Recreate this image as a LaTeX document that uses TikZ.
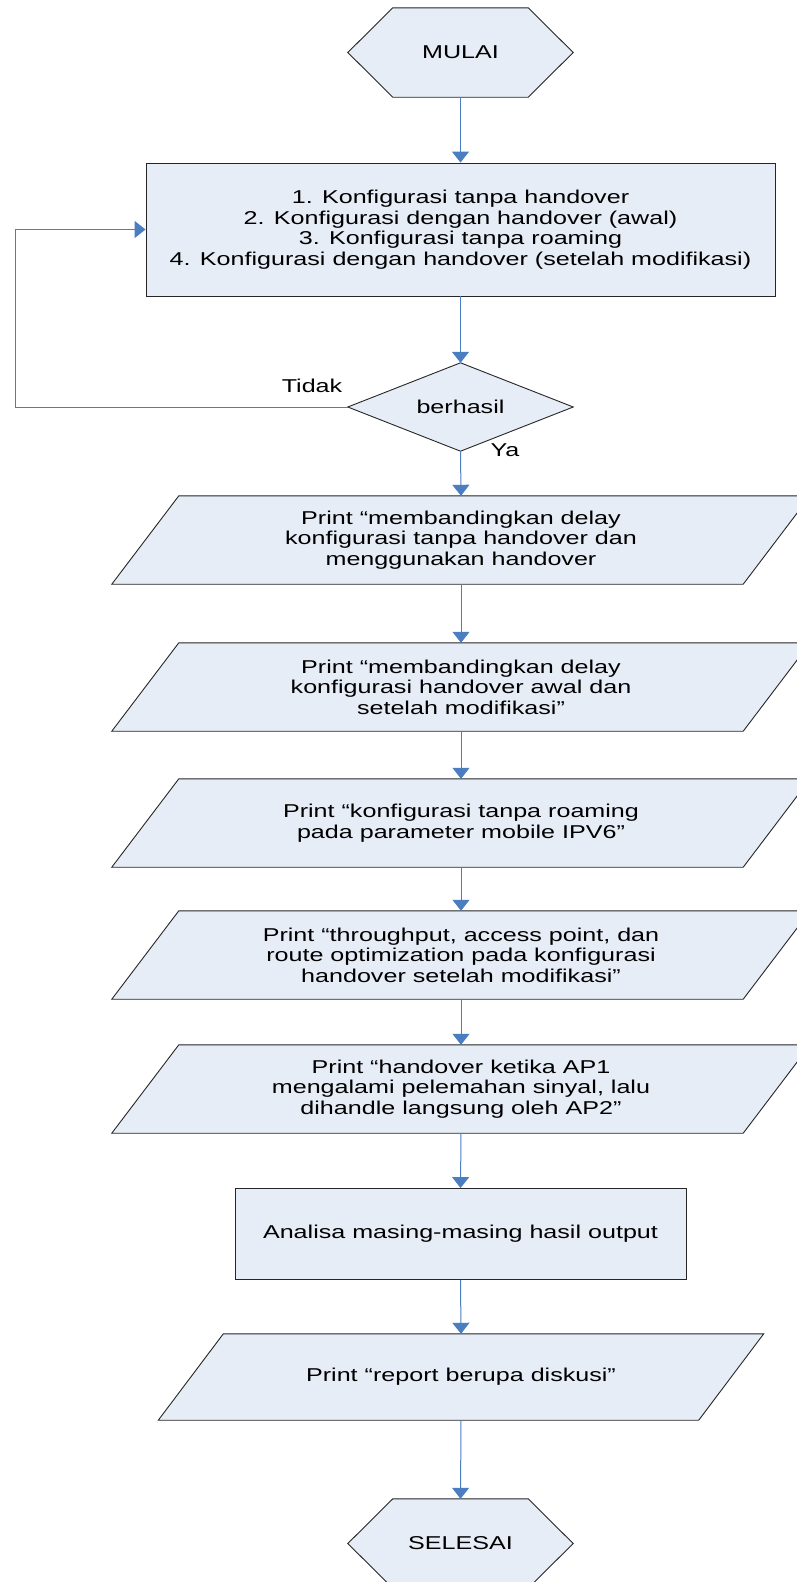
\documentclass[tikz,border=0pt]{standalone}
\usepackage{fontspec}
\setmainfont{Liberation Sans}[FakeStretch=1.35]
\usetikzlibrary{arrows.meta,backgrounds}
\definecolor{shapefill}{RGB}{231,237,247}
\definecolor{conncol}{RGB}{74,126,193}
\tikzset{
  base/.style={inner sep=0pt, align=center, font=\fontsize{18.6}{20.5}\selectfont},
  ghost/.style={base, minimum width=#1},
  boxst/.style={base, draw=black!85, line width=0.9pt, fill=shapefill},
  shp/.style={draw=black!85, line width=0.9pt, fill=shapefill, line join=miter},
  conn/.style={draw=conncol, line width=1pt, -{Triangle[width=17pt,length=11pt]}},
}
\newcommand\pgram[2]{%
  \draw[shp] ([xshift=-#2]#1.south west) -- ([xshift=-#2]#1.south east)
    -- ([xshift=#2]#1.north east) -- ([xshift=#2]#1.north west) -- cycle;}
\newcommand\hexa[1]{%
  \draw[shp] (#1.west) -- ([xshift=45pt]#1.north west) -- ([xshift=-45pt]#1.north east)
    -- (#1.east) -- ([xshift=-45pt]#1.south east) -- ([xshift=45pt]#1.south west) -- cycle;}
\begin{document}
\begin{tikzpicture}[x=1pt,y=-1pt]
\useasboundingbox (0,0) rectangle (797,1582);
\clip (0,0) rectangle (797,1582);

\node[ghost=225pt, minimum height=89pt] (mulai) at (460.5,52.5) {MULAI};
\node[boxst, minimum width=629pt, minimum height=133pt] (box1) at (460.5,229.5)
  {1. Konfigurasi tanpa handover\\2. Konfigurasi dengan handover (awal)\\3. Konfigurasi tanpa roaming\\4. Konfigurasi dengan handover (setelah modifikasi)};
\node[ghost=225pt, minimum height=88pt] (dec) at (460.5,407) {berhasil};
\node[base] (tidak) at (312,386) {Tidak};
\node[base] (ya) at (505,450) {Ya};
\node[ghost=631pt, minimum height=88pt] (p1) at (461,540)
  {Print “membandingkan delay\\konfigurasi tanpa handover dan\\menggunakan handover};
\node[ghost=631pt, minimum height=88pt] (p2) at (461,687)
  {Print “membandingkan delay\\konfigurasi handover awal dan\\setelah modifikasi”};
\node[ghost=631pt, minimum height=88pt] (p3) at (461,823)
  {Print “konfigurasi tanpa roaming\\pada parameter mobile IPV6”};
\node[ghost=631pt, minimum height=88pt] (p4) at (461,955)
  {Print “throughput, access point, dan\\route optimization pada konfigurasi\\handover setelah modifikasi”};
\node[ghost=631pt, minimum height=88pt] (p5) at (461,1089)
  {Print “handover ketika AP1\\mengalami pelemahan sinyal, lalu\\dihandle langsung oleh AP2”};
\node[boxst, minimum width=451pt, minimum height=91pt] (ana) at (460.5,1234)
  {Analisa masing-masing hasil output};
\node[ghost=540pt, minimum height=86pt] (p6) at (461,1377) {Print “report berupa diskusi”};
\node[ghost=225pt, minimum height=89pt] (selesai) at (460.5,1543.5) {SELESAI};
\coordinate (lp) at (15,407);

\begin{scope}[on background layer]
  \fill[white] (0,0) rectangle (797,1582);
  \hexa{mulai}
  \hexa{selesai}
  \draw[shp] (dec.north) -- (dec.east) -- (dec.south) -- (dec.west) -- cycle;
  \pgram{p1}{33.5pt}
  \pgram{p2}{33.5pt}
  \pgram{p3}{33.5pt}
  \pgram{p4}{33.5pt}
  \pgram{p5}{33.5pt}
  \pgram{p6}{32.5pt}
\end{scope}

\draw[conn] (mulai.south) -- (box1.north);
\draw[conn] (box1.south) -- (dec.north);
\draw[conn] (dec.west) -- (lp) |- (box1.west);
\draw[conn] (dec.south) -- (p1.north);
\draw[conn] (p1.south) -- (p2.north);
\draw[conn] (p2.south) -- (p3.north);
\draw[conn] (p3.south) -- (p4.north);
\draw[conn] (p4.south) -- (p5.north);
\draw[conn] (p5.south) -- (ana.north);
\draw[conn] (ana.south) -- (p6.north);
\draw[conn] (p6.south) -- (selesai.north);
\end{tikzpicture}
\end{document}
